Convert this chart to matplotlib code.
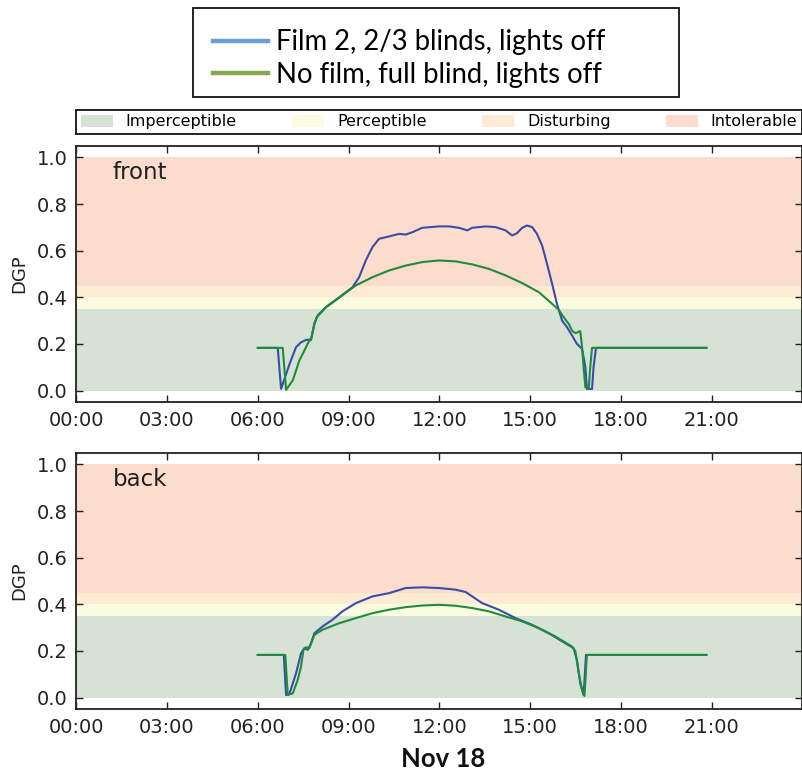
import matplotlib
matplotlib.use("Agg")
import matplotlib.pyplot as plt
from matplotlib.lines import Line2D
from matplotlib.patches import Patch, Rectangle
import numpy as np

# ---------------- data (hours since midnight, DGP) ----------------
front_film_t = [6.00, 6.66, 6.77, 7.05, 7.265, 7.43, 7.595, 7.76, 7.87, 7.98, 8.25, 8.69, 9.13, 9.35,
                9.57, 9.79, 10.01, 10.34, 10.67, 10.89, 11.11, 11.44, 11.99, 12.32, 12.65, 12.93,
                13.09, 13.53, 13.86, 14.19, 14.41, 14.57, 14.74, 14.90, 15.07, 15.23, 15.40, 15.56,
                15.73, 15.89, 16.06, 16.22, 16.39, 16.55, 16.72, 16.83, 16.88, 17.05, 17.10, 17.18, 20.83]
front_film_v = [0.183, 0.183, 0.007, 0.114, 0.186, 0.207, 0.217, 0.219, 0.286, 0.322, 0.358, 0.400, 0.443, 0.486,
                0.558, 0.615, 0.651, 0.661, 0.672, 0.669, 0.679, 0.698, 0.704, 0.704, 0.698, 0.687,
                0.698, 0.704, 0.701, 0.687, 0.665, 0.675, 0.698, 0.708, 0.701, 0.672, 0.622, 0.544,
                0.458, 0.372, 0.300, 0.272, 0.236, 0.200, 0.179, 0.100, 0.007, 0.007, 0.100, 0.183, 0.183]

front_nofilm_t = [6.00, 6.825, 6.935, 7.155, 7.375, 7.595, 7.705, 7.76, 7.87, 7.95, 8.25, 8.69, 9.24, 9.79,
                  10.34, 10.89, 11.44, 11.99, 12.54, 13.09, 13.64, 14.19, 14.74, 15.29, 15.73, 15.95,
                  16.11, 16.28, 16.39, 16.50, 16.66, 16.72, 16.77, 16.83, 16.94, 16.99, 17.05, 20.83]
front_nofilm_v = [0.183, 0.183, 0.003, 0.043, 0.129, 0.186, 0.215, 0.217, 0.286, 0.315, 0.356, 0.398, 0.451, 0.486,
                  0.515, 0.536, 0.551, 0.558, 0.554, 0.541, 0.522, 0.494, 0.461, 0.422, 0.372, 0.346,
                  0.315, 0.286, 0.257, 0.246, 0.255, 0.186, 0.100, 0.014, 0.007, 0.100, 0.183, 0.183]

back_film_t = [6.00, 6.86, 6.935, 7.05, 7.265, 7.43, 7.54, 7.65, 7.76, 7.87, 8.14, 8.47, 8.80, 9.24, 9.79,
               10.34, 10.89, 11.44, 11.99, 12.54, 12.87, 13.09, 13.42, 13.97, 14.52, 15.07, 15.62,
               16.17, 16.44, 16.55, 16.66, 16.77, 16.85, 20.83]
back_film_v = [0.183, 0.183, 0.011, 0.018, 0.104, 0.190, 0.212, 0.205, 0.233, 0.276, 0.305, 0.334, 0.370, 0.405, 0.434,
               0.448, 0.470, 0.473, 0.470, 0.463, 0.453, 0.434, 0.405, 0.377, 0.341, 0.312, 0.276,
               0.233, 0.212, 0.162, 0.061, 0.011, 0.183, 0.183]

back_nofilm_t = [6.00, 6.91, 6.99, 7.155, 7.32, 7.43, 7.51, 7.595, 7.705, 7.87, 8.14, 8.69, 9.24, 9.79,
                 10.34, 10.89, 11.44, 11.99, 12.54, 13.09, 13.64, 14.19, 14.74, 15.29, 15.84, 16.39,
                 16.50, 16.61, 16.72, 16.80, 16.88, 20.83]
back_nofilm_v = [0.183, 0.183, 0.011, 0.018, 0.076, 0.133, 0.205, 0.216, 0.212, 0.269, 0.291, 0.319, 0.341, 0.362,
                 0.377, 0.388, 0.395, 0.398, 0.394, 0.384, 0.370, 0.348, 0.327, 0.298, 0.262, 0.219,
                 0.198, 0.105, 0.033, 0.007, 0.183, 0.183]

band_names = ["Imperceptible", "Perceptible", "Disturbing", "Intolerable"]
band_edges = [0.0, 0.35, 0.40, 0.45, 1.0]
band_colors = ["#d6e2d4", "#fbfbdf", "#fdebd4", "#fcdccd"]

series_labels = ["Film 2, 2/3 blinds, lights off", "No film, full blind, lights off"]
line_colors = ["#3a4ca8", "#1e8c3c"]
legend_colors = ["#6a9ed6", "#86a84e"]

panel_names = ["front", "back"]
tick_hours = [0, 3, 6, 9, 12, 15, 18, 21]
tick_labels = ["00:00", "03:00", "06:00", "09:00", "12:00", "15:00", "18:00", "21:00"]
y_ticks = [0.0, 0.2, 0.4, 0.6, 0.8, 1.0]

# ---------------- figure ----------------
W, H = 803, 776
fig = plt.figure(figsize=(W / 100, H / 100), dpi=100)
ax_top = fig.add_axes([0.0950, 0.4817, 0.9041, 0.3305])
ax_bot = fig.add_axes([0.0950, 0.0860, 0.9041, 0.3305])

panels = [(ax_top, front_film_t, front_film_v, front_nofilm_t, front_nofilm_v),
          (ax_bot, back_film_t, back_film_v, back_nofilm_t, back_nofilm_v)]

for (ax, ft, fv, nt, nv), name in zip(panels, panel_names):
    for i in range(4):
        ax.axhspan(band_edges[i], band_edges[i + 1], color=band_colors[i], lw=0, zorder=0)
    ax.plot(ft, fv, color=line_colors[0], lw=1.5, zorder=3)
    ax.plot(nt, nv, color=line_colors[1], lw=1.5, zorder=4)
    ax.set_xlim(0, 24)
    ax.set_ylim(-0.05, 1.05)
    ax.set_xticks(tick_hours)
    ax.set_xticklabels(tick_labels)
    ax.set_yticks(y_ticks)
    ax.set_yticklabels([f"{v:.1f}" for v in y_ticks])
    ax.tick_params(direction="in", length=5, width=1, top=True, right=True,
                   labelsize=14, pad=6, colors="#222222", labelcolor="#222222")
    for s in ax.spines.values():
        s.set_linewidth(1.3)
        s.set_color("#222222")
    ax.set_ylabel("DGP", fontsize=13, labelpad=6, color="#222222")
    ax.text(0.05, 0.894, name, transform=ax.transAxes, fontsize=16.5,
            ha="left", va="center", color="#222222")

# band legend
band_handles = [Patch(facecolor=c, edgecolor="none") for c in band_colors]
leg2 = ax_top.legend(band_handles, band_names, ncol=4, mode="expand", loc="lower left",
                     bbox_to_anchor=(0, 1.045, 1, 0.1), borderaxespad=0, fancybox=False,
                     edgecolor="#111111", framealpha=1, fontsize=11.5, handlelength=2.0,
                     handleheight=0.85, handletextpad=0.8, borderpad=0.3)
leg2.get_frame().set_linewidth(1.3)

# series legend: frame drawn as a figure rectangle, entries placed inside
frame = Rectangle((193.3 / W, 1 - 96.7 / H), (679 - 193.3) / W, (96.7 - 8.3) / H,
                  transform=fig.transFigure, facecolor="white", edgecolor="#111111",
                  lw=1.3, zorder=1)
fig.patches.append(frame)
series_handles = [Line2D([0], [0], color=c, lw=3.2) for c in legend_colors]
leg1 = fig.legend(series_handles, series_labels, loc="upper left",
                  bbox_to_anchor=(213 / W, 1 - 29.3 / H), borderaxespad=0, borderpad=0,
                  frameon=False, prop={"family": "Lato", "size": 19.8},
                  handlelength=2.0, handletextpad=0.3, labelspacing=0.24)
leg1.set_zorder(2)

fig.text(0.5523, 0.0213, "Nov 18", ha="center", va="center", fontsize=18.5,
         fontweight="bold", family="Lato", color="#111111")

fig.savefig("out.png", dpi=100)
